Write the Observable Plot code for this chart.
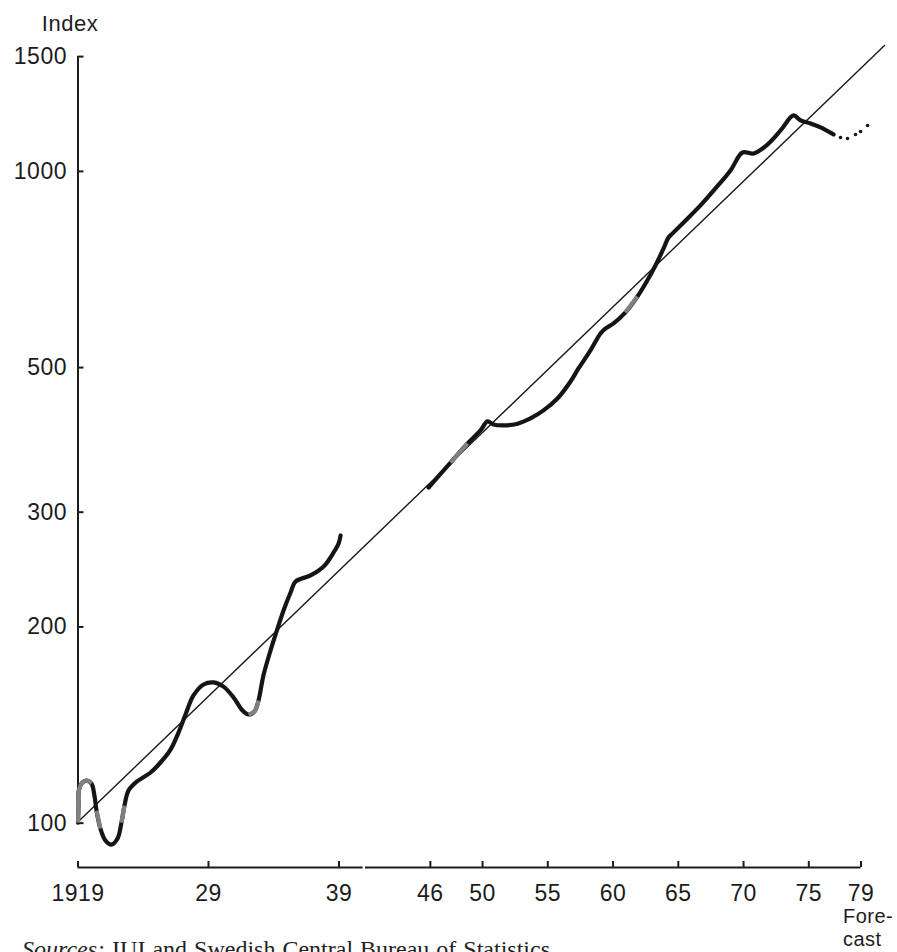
<!DOCTYPE html>
<html><head><meta charset="utf-8">
<script src="https://cdn.jsdelivr.net/npm/d3@7"></script>
<script src="https://cdn.jsdelivr.net/npm/@observablehq/plot@0.6"></script>
<style>
html,body{margin:0;padding:0;background:#fff;}
#wrap{position:relative;width:897px;height:952px;overflow:hidden;}
#caption{position:absolute;left:22px;top:937px;font-family:"Liberation Serif","Times New Roman",serif;font-size:24px;line-height:24px;color:#222;word-spacing:1px;white-space:nowrap;}
</style></head><body>
<div id="wrap"><div id="chart"></div><div id="caption"><i>Sources:</i> IUI and Swedish Central Bureau of Statistics.</div></div>
<script>
// Industrial production index (1919 = 100), log scale
const interwarYears = [1919.00,1919.04,1919.06,1919.27,1919.65,1920.03,1920.26,1920.42,1920.72,1921.11,1921.57,1922.03,1922.33,1922.56,1922.87,1923.41,1924.56,1925.32,1926.09,1926.70,1927.24,1927.85,1928.62,1929.39,1930.15,1930.92,1931.61,1932.07,1932.53,1932.83,1933.21,1933.75,1934.29,1934.75,1935.29,1935.67,1936.82,1937.82,1938.59,1938.97,1939.12];
const interwarIndex = [100.2,106.4,112.2,115.0,116.2,115.0,110.2,104.5,98.1,94.0,92.7,94.7,100.2,106.4,112.2,115.4,119.6,123.9,129.7,137.7,146.8,157.0,163.2,164.4,162.0,155.9,148.9,146.8,148.4,154.2,168.5,184.0,198.9,212.0,225.9,234.8,239.9,247.6,260.2,268.5,276.3];
const postwarYears = [1945.86,1947.55,1948.85,1949.84,1950.38,1950.84,1951.61,1952.68,1953.67,1954.67,1955.74,1956.74,1957.35,1958.27,1959.04,1959.43,1960.04,1960.95,1961.87,1962.49,1963.25,1963.87,1964.25,1964.56,1965.56,1966.70,1967.85,1969.00,1969.92,1970.77,1971.84,1972.84,1973.83,1974.37,1975.13,1975.90,1976.90];
const postwarIndex = [327.3,357.5,382.4,400.4,413.4,409.0,407.6,410.1,417.8,429.8,448.2,476.0,498.4,531.2,564.1,574.1,584.4,607.5,642.7,673.0,717.2,761.6,791.8,803.3,840.9,886.7,941.5,1003.2,1069.0,1065.3,1099.7,1155.5,1218.4,1197.0,1184.5,1168.0,1139.3];
const forecastYears = [1977.43,1977.97,1978.58,1978.97,1979.50];
const forecastIndex = [1127.2,1123.2,1139.3,1151.3,1176.1];
const trendYears = [1919.19,1980.8];
const trendIndex = [101.3,1560];
const greyStretches = [[1919,1920.03],[1920.42,1920.72],[1922.33,1922.56],[1932.07,1932.83],[1947.5,1948.9],[1960.9,1961.9]];
const yTicks = [100,200,300,500,1000,1500];
const yDomain = [85.5,1560];
const xTicks = [1919,1929,1939,1946,1950,1955,1960,1965,1970,1975,1979];
const xTickLabels = ["1919","29","39","46","50","55","60","65","70","75","79"];
const xDomain = [1919,1979];
const axisSegments = [[1919,1940.85],[1941.03,1979]];
const forecastNote = ["Fore-\ncast"];
const yLabel = ["Index"];

const rows = [
  ...interwarYears.map((year,i)=>({year, value: interwarIndex[i], period:"1919–1939"})),
  ...postwarYears.map((year,i)=>({year, value: postwarIndex[i], period:"1946–1977"}))
];
const greyRows = rows.flatMap(d => {
  const k = greyStretches.findIndex(([a,b]) => d.year >= a && d.year <= b);
  return k < 0 ? [] : [{...d, stretch: k}];
});
const trend = trendYears.map((year,i)=>({year, value: trendIndex[i]}));
const forecast = forecastYears.map((year,i)=>({year, value: forecastIndex[i]}));
const labelOf = new Map(xTicks.map((t,i)=>[t, xTickLabels[i]]));

const chart = Plot.plot({
  width: 897, height: 952,
  marginLeft: 77.5, marginRight: 36.5, marginTop: 45, marginBottom: 85,
  style: {fontFamily: "'Liberation Sans', Arial, sans-serif", fontSize: "23px", color: "#1c1c1c", background: "#fff", letterSpacing: "0.5px", overflow: "visible"},
  x: {type: "linear", domain: xDomain, label: null},
  y: {type: "log", domain: yDomain, range: [867,45], label: null},
  marks: [
    Plot.ruleY(axisSegments, {x1: d=>d[0], x2: d=>d[1], y: () => yDomain[0], strokeWidth: 2, stroke: "#1c1c1c"}),
    Plot.ruleX([xTicks[0]], {y1: yTicks[0], y2: yTicks[yTicks.length-1], strokeWidth: 2, stroke: "#1c1c1c"}),
    Plot.axisY(yTicks, {anchor: "left", tickSize: -6, tickPadding: 17, strokeWidth: 2, tickFormat: d => `${d}`, fontSize: 23, label: null}),
    Plot.axisX(xTicks, {anchor: "bottom", tickSize: -6, tickPadding: 22.7, strokeWidth: 2, tickFormat: d => labelOf.get(d), fontSize: 23, label: null}),
    Plot.line(trend, {x: "year", y: "value", stroke: "#1a1a1a", strokeWidth: 1.4}),
    Plot.line(rows, {x: "year", y: "value", z: "period", curve: "catmull-rom", stroke: "#151515", strokeWidth: 4.2, strokeLinecap: "round", strokeLinejoin: "round"}),
    Plot.line(greyRows, {x: "year", y: "value", z: "stretch", curve: "catmull-rom", stroke: "#808080", strokeWidth: 4.2, strokeLinecap: "butt", strokeLinejoin: "round"}),
    Plot.dot(forecast, {x: "year", y: "value", r: 1.8, fill: "#151515", stroke: null}),
    Plot.text(yLabel, {frameAnchor: "top-left", textAnchor: "middle", lineAnchor: "bottom", dx: -8, dy: -15, fontSize: 22}),
    Plot.text(forecastNote, {x: () => xTicks[xTicks.length-1], frameAnchor: "bottom", textAnchor: "start", lineAnchor: "top", dx: -18, dy: 39, fontSize: 20, lineHeight: 1.15})
  ]
});
document.getElementById("chart").appendChild(chart);
</script>
</body></html>
